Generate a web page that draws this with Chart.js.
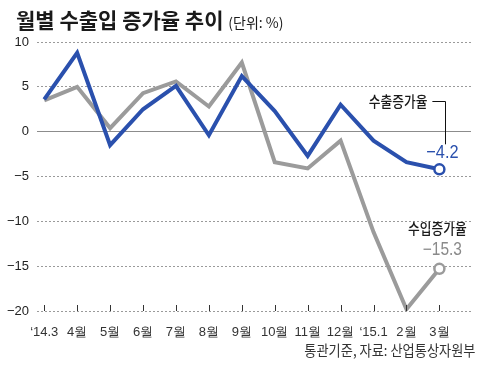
<!DOCTYPE html>
<html>
<head>
<meta charset="utf-8">
<script src="https://cdn.jsdelivr.net/npm/chart.js"></script>
<style>
  body { margin: 0; background: #fff; }
  #wrap { position: relative; width: 486px; height: 365px; overflow: hidden; }
  #title { position: absolute; left: 16px; top: 9px; font: bold 21px "Noto Sans CJK KR", sans-serif; line-height: 21px; color: #1a1a1a; white-space: nowrap; }
  #title span { font-weight: normal; font-size: 14px; }
  #source { position: absolute; right: 11px; top: 341px; font: 15px "Noto Sans CJK KR", sans-serif; line-height: 18px; color: #333; white-space: nowrap; transform: scaleX(0.88); transform-origin: right center; }
  canvas { position: absolute; left: 0; top: 0; }
</style>
</head>
<body>
<div id="wrap">
  <canvas id="chart" width="486" height="365"></canvas>
  <div id="title">월별 수출입 증가율 추이 <span>(단위: %)</span></div>
  <div id="source">통관기준, 자료: 산업통상자원부</div>
</div>
<script>
// 데이터
const xLabels = ["‘14.3", "4월", "5월", "6월", "7월", "8월", "9월", "10월", "11월", "12월", "‘15.1", "2월", "3월"];
const exportGrowth = [3.6, 8.8, -1.5, 2.5, 5.1, -0.4, 6.2, 2.3, -2.7, 3.0, -1.0, -3.4, -4.2];
const importGrowth = [3.5, 5.0, 0.4, 4.3, 5.6, 2.8, 7.7, -3.4, -4.1, -1.0, -11.2, -19.8, -15.3];
const seriesNames = ["수출증가율", "수입증가율"];
const yTicks = [-20, -15, -10, -5, 0, 5, 10];

const blue = "#2a50ad";
const gray = "#9b9b9b";
const numFont = "'Liberation Sans', Arial, sans-serif";
const krFont = "'Noto Sans CJK KR', sans-serif";

const fmt = v => String(v).replace("-", "−");
const last = exportGrowth.length - 1;

const toPoints = arr => arr.map((v, i) => ({ x: i, y: v }));

// x축 눈금 (축선 위로 짧게)
const tickMarks = {
  id: "tickMarks",
  afterDatasetsDraw(chart) {
    const { ctx, chartArea } = chart;
    const xs = chart.scales.x;
    ctx.save();
    ctx.strokeStyle = "#333";
    ctx.lineWidth = 1;
    xs.ticks.forEach(t => {
      const px = Math.round(xs.getPixelForValue(t.value)) + 0.5;
      ctx.beginPath();
      ctx.moveTo(px, chartArea.bottom - 6);
      ctx.lineTo(px, chartArea.bottom);
      ctx.stroke();
    });
    ctx.restore();
  }
};

// 끝점 라벨
const endLabels = {
  id: "endLabels",
  afterDatasetsDraw(chart) {
    const { ctx } = chart;
    const pe = chart.getDatasetMeta(0).data[last];
    const pi = chart.getDatasetMeta(1).data[last];

    const text = (s, x, y, font, color, align, sx) => {
      ctx.save();
      ctx.translate(x, y);
      ctx.scale(sx, 1);
      ctx.font = font;
      ctx.fillStyle = color;
      ctx.textAlign = align;
      ctx.textBaseline = "middle";
      ctx.fillText(s, 0, 0);
      ctx.restore();
    };

    // 수출
    text(seriesNames[0], pe.x - 12, pe.y - 68, "500 15px " + krFont, "#1a1a1a", "right", 0.85);
    ctx.save();
    ctx.strokeStyle = "#111";
    ctx.lineWidth = 1;
    ctx.beginPath();
    ctx.moveTo(pe.x - 7, Math.round(pe.y - 68) + 0.5);
    ctx.lineTo(Math.round(pe.x + 6) + 0.5, Math.round(pe.y - 68) + 0.5);
    ctx.lineTo(Math.round(pe.x + 6) + 0.5, pe.y - 25);
    ctx.stroke();
    ctx.restore();
    text(fmt(exportGrowth[last]), pe.x + 3, pe.y - 17, "19px " + numFont, blue, "center", 0.86);

    // 수입
    text(seriesNames[1], pi.x - 2, pi.y - 41, "500 15px " + krFont, "#1a1a1a", "center", 0.85);
    text(fmt(importGrowth[last]), pi.x + 3, pi.y - 18.5, "18px " + numFont, "#8a8a8a", "center", 0.86);
  }
};

const endPoint = c => (c.dataIndex === last ? 5 : 0);

new Chart(document.getElementById("chart"), {
  type: "line",
  data: {
    datasets: [
      {
        label: seriesNames[0],
        data: toPoints(exportGrowth),
        borderColor: blue,
        borderWidth: 4,
        pointRadius: endPoint,
        pointBackgroundColor: "#fff",
        pointBorderColor: blue,
        pointBorderWidth: 2.5,
        tension: 0
      },
      {
        label: seriesNames[1],
        data: toPoints(importGrowth),
        borderColor: gray,
        borderWidth: 4,
        pointRadius: endPoint,
        pointBackgroundColor: "#fff",
        pointBorderColor: gray,
        pointBorderWidth: 2.5,
        tension: 0
      }
    ]
  },
  options: {
    responsive: false,
    animation: false,
    layout: { padding: { top: 42, right: 15, left: 0, bottom: 0 } },
    plugins: { legend: { display: false }, tooltip: { enabled: false } },
    scales: {
      x: {
        type: "linear",
        min: -0.22,
        max: 12.96,
        afterBuildTicks: s => { s.ticks = xLabels.map((_, i) => ({ value: i })); },
        afterFit: s => { s.height = 54; },
        grid: { display: false },
        border: { display: false },
        ticks: {
          autoSkip: false,
          maxRotation: 0,
          padding: 6,
          color: "#333",
          font: { family: numFont, size: 13 },
          callback: v => xLabels[v]
        }
      },
      y: {
        min: -20,
        max: 10,
        afterBuildTicks: s => { s.ticks = yTicks.map(v => ({ value: v })); },
        afterFit: s => { s.width = 37; },
        grid: {
          drawTicks: false,
          color: c => (c.tick && c.tick.value === 0 ? "#8c8c8c" : "#9a9a9a"),
          lineWidth: 1
        },
        border: { display: false, dash: c => (c.tick && c.tick.value === 0 ? [] : [2, 2]) },
        ticks: {
          padding: 8,
          color: "#222",
          font: { family: numFont, size: 13 },
          callback: v => fmt(v)
        }
      }
    }
  },
  plugins: [tickMarks, endLabels]
});
</script>
</body>
</html>
